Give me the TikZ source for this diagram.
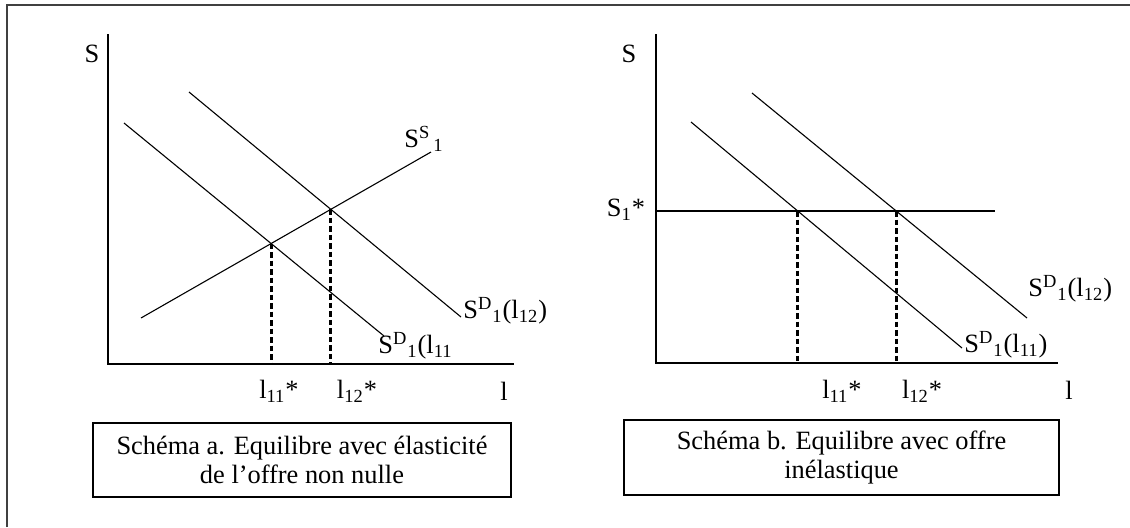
\documentclass[tikz,border=0pt]{standalone}
\usepackage{fontspec}
\setmainfont{Liberation Serif}
\usetikzlibrary{positioning, calc}

\tikzset{
  curve/.style={line width=0.55pt},
  axis/.style={line width=0.75pt},
  guide/.style={line width=1.5pt, dash pattern=on 2.75pt off 1.5pt},
  lab/.style={inner sep=0pt, font=\fontsize{13.2}{14.5}\selectfont},
  capbox/.style={draw, line width=0.6pt, align=center, inner sep=0pt,
    font=\fontsize{13.2}{14.5}\selectfont},
}

\begin{document}
\begin{tikzpicture}[x=0.5pt, y=-0.5pt]
    \useasboundingbox (0,0) rectangle (1130,527);

    % Outer frame (only top and left edges show)
    \draw[line width=0.7pt, black!75] (7,527) -- (7,5) -- (1130,5);

    % ---------- Schema a ----------
    % Axes
    \coordinate (aTop) at (108,34);
    \coordinate (aO) at (108,364);
    \coordinate (aEnd) at (514,364);
    \draw[axis] (aTop) -- (aO) -- (aEnd);
    \node[lab] (aS) at (92,54) {S};
    \node[lab] (al) at (504,391) {l};

    % Demand curves and supply curve
    \coordinate (aD1s) at (124,123);  \coordinate (aD1e) at (384,336);
    \coordinate (aD2s) at (189,92);   \coordinate (aD2e) at (461,317);
    \coordinate (aSs) at (141,318);   \coordinate (aSe) at (431,152);
    \draw[curve] (aD1s) -- (aD1e);
    \draw[curve] (aD2s) -- (aD2e);
    \draw[curve] (aSs) -- (aSe);

    % Equilibria dropped on the l axis
    \coordinate (aE1) at (intersection of aD1s--aD1e and aSs--aSe);
    \coordinate (aE2) at (intersection of aD2s--aD2e and aSs--aSe);
    \draw[guide] (aE1) -- (aE1 |- aO);
    \draw[guide] (aE2) -- (aE2 |- aO);

    % Curve labels
    \node[lab] (aSup) at (424,139) {S\textsuperscript{S}\textsubscript{\,1}};
    \node[lab, anchor=west] (aDem2) at (463,311) {S\textsuperscript{D}\textsubscript{1}(l\textsubscript{12})};
    \node[lab, anchor=west] (aDem1) at (378,346) {S\textsuperscript{D}\textsubscript{1}(l\textsubscript{11}};
    \node[lab] (al11) at (279,391) {l\textsubscript{11}*};
    \node[lab] (al12) at (357,391) {l\textsubscript{12}*};

    % Caption
    \node[capbox, minimum width=209pt, minimum height=37pt] (capA) at (302,460)
        {Schéma a. Equilibre avec élasticité\\de l’offre non nulle};

    % ---------- Schema b ----------
    % Axes
    \coordinate (bTop) at (656,34);
    \coordinate (bO) at (656,363);
    \coordinate (bEnd) at (1058,363);
    \draw[axis] (bTop) -- (bO) -- (bEnd);
    \node[lab] (bS) at (629,54) {S};
    \node[lab] (bl) at (1069,390) {l};

    % Inelastic supply at S1*
    \coordinate (bSs) at (656,211);
    \coordinate (bSe) at (995,211);
    \draw[curve] (bSs) -- (bSe);
    \node[lab] (bSstar) at (626,210) {S\textsubscript{1}*};

    % Demand curves
    \coordinate (bD1s) at (691,122);  \coordinate (bD1e) at (962,348);
    \coordinate (bD2s) at (752,93);   \coordinate (bD2e) at (1027,318);
    \draw[curve] (bD1s) -- (bD1e);
    \draw[curve] (bD2s) -- (bD2e);

    % Equilibria dropped on the l axis
    \coordinate (bE1) at (intersection of bD1s--bD1e and bSs--bSe);
    \coordinate (bE2) at (intersection of bD2s--bD2e and bSs--bSe);
    \draw[guide] (bE1) -- (bE1 |- bO);
    \draw[guide] (bE2) -- (bE2 |- bO);

    % Curve labels
    \node[lab, anchor=west] (bDem2) at (1028,289) {S\textsuperscript{D}\textsubscript{1}(l\textsubscript{12})};
    \node[lab, anchor=west] (bDem1) at (964,345) {S\textsuperscript{D}\textsubscript{1}(l\textsubscript{11})};
    \node[lab] (bl11) at (842,391) {l\textsubscript{11}*};
    \node[lab] (bl12) at (922,391) {l\textsubscript{12}*};

    % Caption
    \node[capbox, minimum width=217.5pt, minimum height=37.5pt] (capB) at (841.5,457.5)
        {Schéma b. Equilibre avec offre\\inélastique};

\end{tikzpicture}
\end{document}
